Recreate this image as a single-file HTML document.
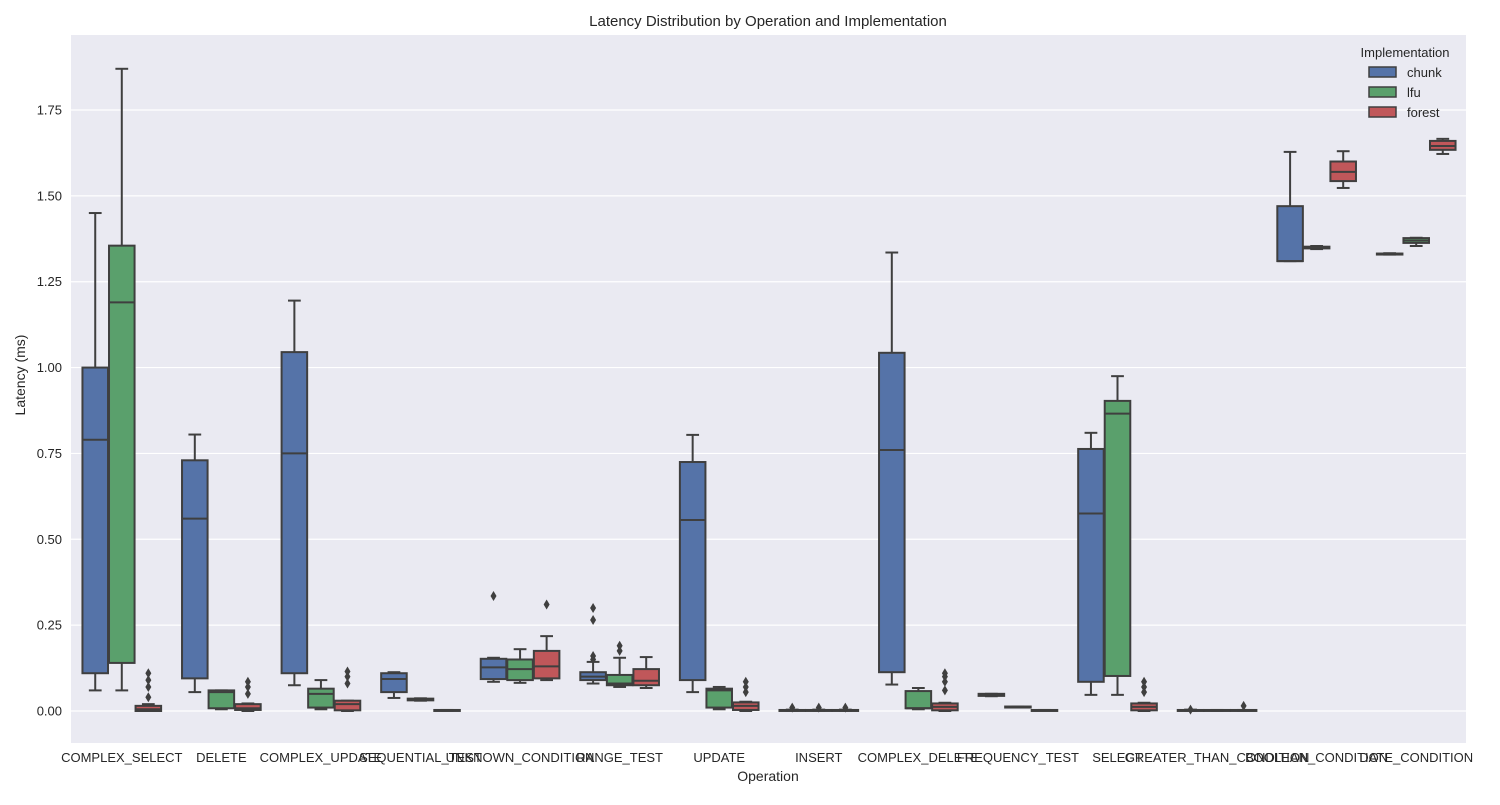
<!DOCTYPE html>
<html><head><meta charset="utf-8"><style>
body{margin:0;background:#fff;font-family:"Liberation Sans",sans-serif}
</style></head><body>
<svg id="chart" width="1500" height="800" xmlns="http://www.w3.org/2000/svg" font-family="Liberation Sans, sans-serif">
<rect x="71" y="35" width="1395" height="708" fill="#eaeaf2"/>
<g id="grid"></g><g id="boxes"></g><g id="axes"></g>
<text x="768" y="26" font-size="15" text-anchor="middle" fill="#262626">Latency Distribution by Operation and Implementation</text>
<text x="768" y="781" font-size="14" text-anchor="middle" fill="#262626">Operation</text>
<text transform="translate(25,375) rotate(-90)" font-size="14" text-anchor="middle" fill="#262626">Latency (ms)</text>
<g>
<text x="1405" y="57" font-size="13" text-anchor="middle" fill="#262626">Implementation</text>
<g><rect x="1369" y="67" width="27" height="10" fill="#5573a8" stroke="#3f3f3f" stroke-width="1.5"/><text x="1407" y="77" font-size="13" fill="#262626">chunk</text></g>
<g><rect x="1369" y="87" width="27" height="10" fill="#5aa06c" stroke="#3f3f3f" stroke-width="1.5"/><text x="1407" y="97" font-size="13" fill="#262626">lfu</text></g>
<g><rect x="1369" y="107" width="27" height="10" fill="#c0575a" stroke="#3f3f3f" stroke-width="1.5"/><text x="1407" y="117" font-size="13" fill="#262626">forest</text></g>
</g>
</svg>
<script>
const categories=["COMPLEX_SELECT","DELETE","COMPLEX_UPDATE","SEQUENTIAL_TEST","UNKNOWN_CONDITION","RANGE_TEST","UPDATE","INSERT","COMPLEX_DELETE","FREQUENCY_TEST","SELECT","GREATER_THAN_CONDITION","BOOLEAN_CONDITION","DATE_CONDITION"];
const hues=["chunk","lfu","forest"];
const yTicks=[0,0.25,0.5,0.75,1.0,1.25,1.5,1.75];
const yTickLabels=["0.00","0.25","0.50","0.75","1.00","1.25","1.50","1.75"];
// [whislo, q1, median, q3, whishi] per category for each hue
const chunkStats=[[0.06,0.11,0.79,1.0,1.45],[0.055,0.095,0.56,0.73,0.805],[0.075,0.11,0.75,1.045,1.195],[0.038,0.055,0.093,0.11,0.113],[0.085,0.093,0.127,0.152,0.155],[0.08,0.09,0.1,0.113,0.143],[0.055,0.09,0.556,0.725,0.804],[0.001,0.001,0.002,0.003,0.004],[0.077,0.113,0.76,1.043,1.335],[0.043,0.044,0.047,0.05,0.05],[0.047,0.085,0.575,0.763,0.81],[0.001,0.001,0.002,0.003,0.004],[1.31,1.31,1.31,1.47,1.628],[1.329,1.33,1.331,1.332,1.333]];
const lfuStats=[[0.06,0.14,1.19,1.355,1.87],[0.005,0.008,0.055,0.06,0.06],[0.005,0.01,0.05,0.065,0.09],[0.03,0.031,0.034,0.036,0.037],[0.082,0.09,0.122,0.15,0.18],[0.07,0.075,0.08,0.105,0.155],[0.005,0.01,0.06,0.065,0.07],[0.001,0.001,0.002,0.003,0.004],[0.005,0.008,0.008,0.058,0.067],[0.011,0.011,0.012,0.013,0.013],[0.047,0.102,0.866,0.903,0.975],[0.001,0.001,0.002,0.003,0.003],[1.345,1.347,1.349,1.352,1.354],[1.354,1.363,1.37,1.377,1.378]];
const forestStats=[[0,0,0.005,0.015,0.02],[0,0.003,0.008,0.02,0.022],[0,0.002,0.02,0.03,0.03],[0.001,0.001,0.002,0.003,0.003],[0.09,0.095,0.13,0.175,0.218],[0.067,0.075,0.088,0.122,0.157],[0,0.003,0.015,0.025,0.027],[0.001,0.001,0.002,0.003,0.004],[0,0.002,0.012,0.022,0.024],[0.002,0.002,0.003,0.003,0.003],[0,0.002,0.012,0.022,0.024],[0.001,0.001,0.002,0.003,0.003],[1.523,1.543,1.57,1.6,1.63],[1.622,1.634,1.645,1.66,1.666]];
const chunkOutliers=[[],[],[],[],[0.335],[0.30,0.265,0.16,0.15],[],[0.01],[],[],[],[0.004],[],[]];
const lfuOutliers=[[],[],[],[],[],[0.19,0.175],[],[0.01],[],[],[],[],[],[]];
const forestOutliers=[[0.04,0.07,0.09,0.11],[0.05,0.07,0.085],[0.08,0.1,0.115],[],[0.31],[],[0.055,0.07,0.085],[0.01],[0.06,0.085,0.1,0.11],[],[0.055,0.07,0.085],[0.015],[],[]];
const colors=["#5573a8","#5aa06c","#c0575a"];
const NS="http://www.w3.org/2000/svg";
const X0=72,X1=1466,Y0=711,Y175=110;
const bandW=(X1-X0)/categories.length;
function yS(v){return Y0-(v/1.75)*(Y0-Y175);}
function xC(i){return X0+bandW*(i+0.5);}
function xH(i,h){return xC(i)+(h-1)*bandW*0.8/3;}
function mk(tag,attrs,parent){const e=document.createElementNS(NS,tag);for(const k in attrs)e.setAttribute(k,attrs[k]);parent.appendChild(e);return e;}
const grid=document.getElementById('grid'),axes=document.getElementById('axes'),boxes=document.getElementById('boxes');
yTicks.forEach((t,i)=>{
 const l=mk('line',{x1:71,x2:X1,y1:yS(t),y2:yS(t),stroke:'#fff','stroke-width':1.2},grid);
 
 
 const tx=mk('text',{x:62,y:yS(t)+4.5,'font-size':13,'text-anchor':'end',fill:'#262626'},axes);
 tx.textContent=yTickLabels[i];
 
 
});
categories.forEach((c,i)=>{
 const tx=mk('text',{x:xC(i),y:762,'font-size':13,'text-anchor':'middle',fill:'#262626'},axes);
 tx.textContent=c;
 
 
});
const allStats=[chunkStats,lfuStats,forestStats],allOut=[chunkOutliers,lfuOutliers,forestOutliers];
const bw=bandW*0.8/3-1;
categories.forEach((c,i)=>{hues.forEach((h,hi)=>{
 const s=allStats[hi][i];if(!s)return;
 const cx=xH(i,hi);
 const g=mk('g',{},boxes);
 
 
 const st={stroke:'#3f3f3f','stroke-width':2};
 mk('line',Object.assign({x1:cx,x2:cx,y1:yS(s[0]),y2:yS(s[1])},st),g);
 mk('line',Object.assign({x1:cx,x2:cx,y1:yS(s[3]),y2:yS(s[4])},st),g);
 mk('line',Object.assign({x1:cx-bw/4,x2:cx+bw/4,y1:yS(s[0]),y2:yS(s[0])},st),g);
 mk('line',Object.assign({x1:cx-bw/4,x2:cx+bw/4,y1:yS(s[4]),y2:yS(s[4])},st),g);
 mk('rect',Object.assign({x:cx-bw/2,y:yS(s[3]),width:bw,height:Math.max(1,yS(s[1])-yS(s[3])),fill:colors[hi]},st),g);
 mk('line',Object.assign({x1:cx-bw/2,x2:cx+bw/2,y1:yS(s[2]),y2:yS(s[2])},st),g);
 allOut[hi][i].forEach(o=>{
  const y=yS(o);
  const d=mk('path',{d:`M${cx} ${y-5}L${cx+3} ${y}L${cx} ${y+5}L${cx-3} ${y}Z`,fill:'#3f3f3f'},g);
  
  
 });
});});
</script>
</body></html>
